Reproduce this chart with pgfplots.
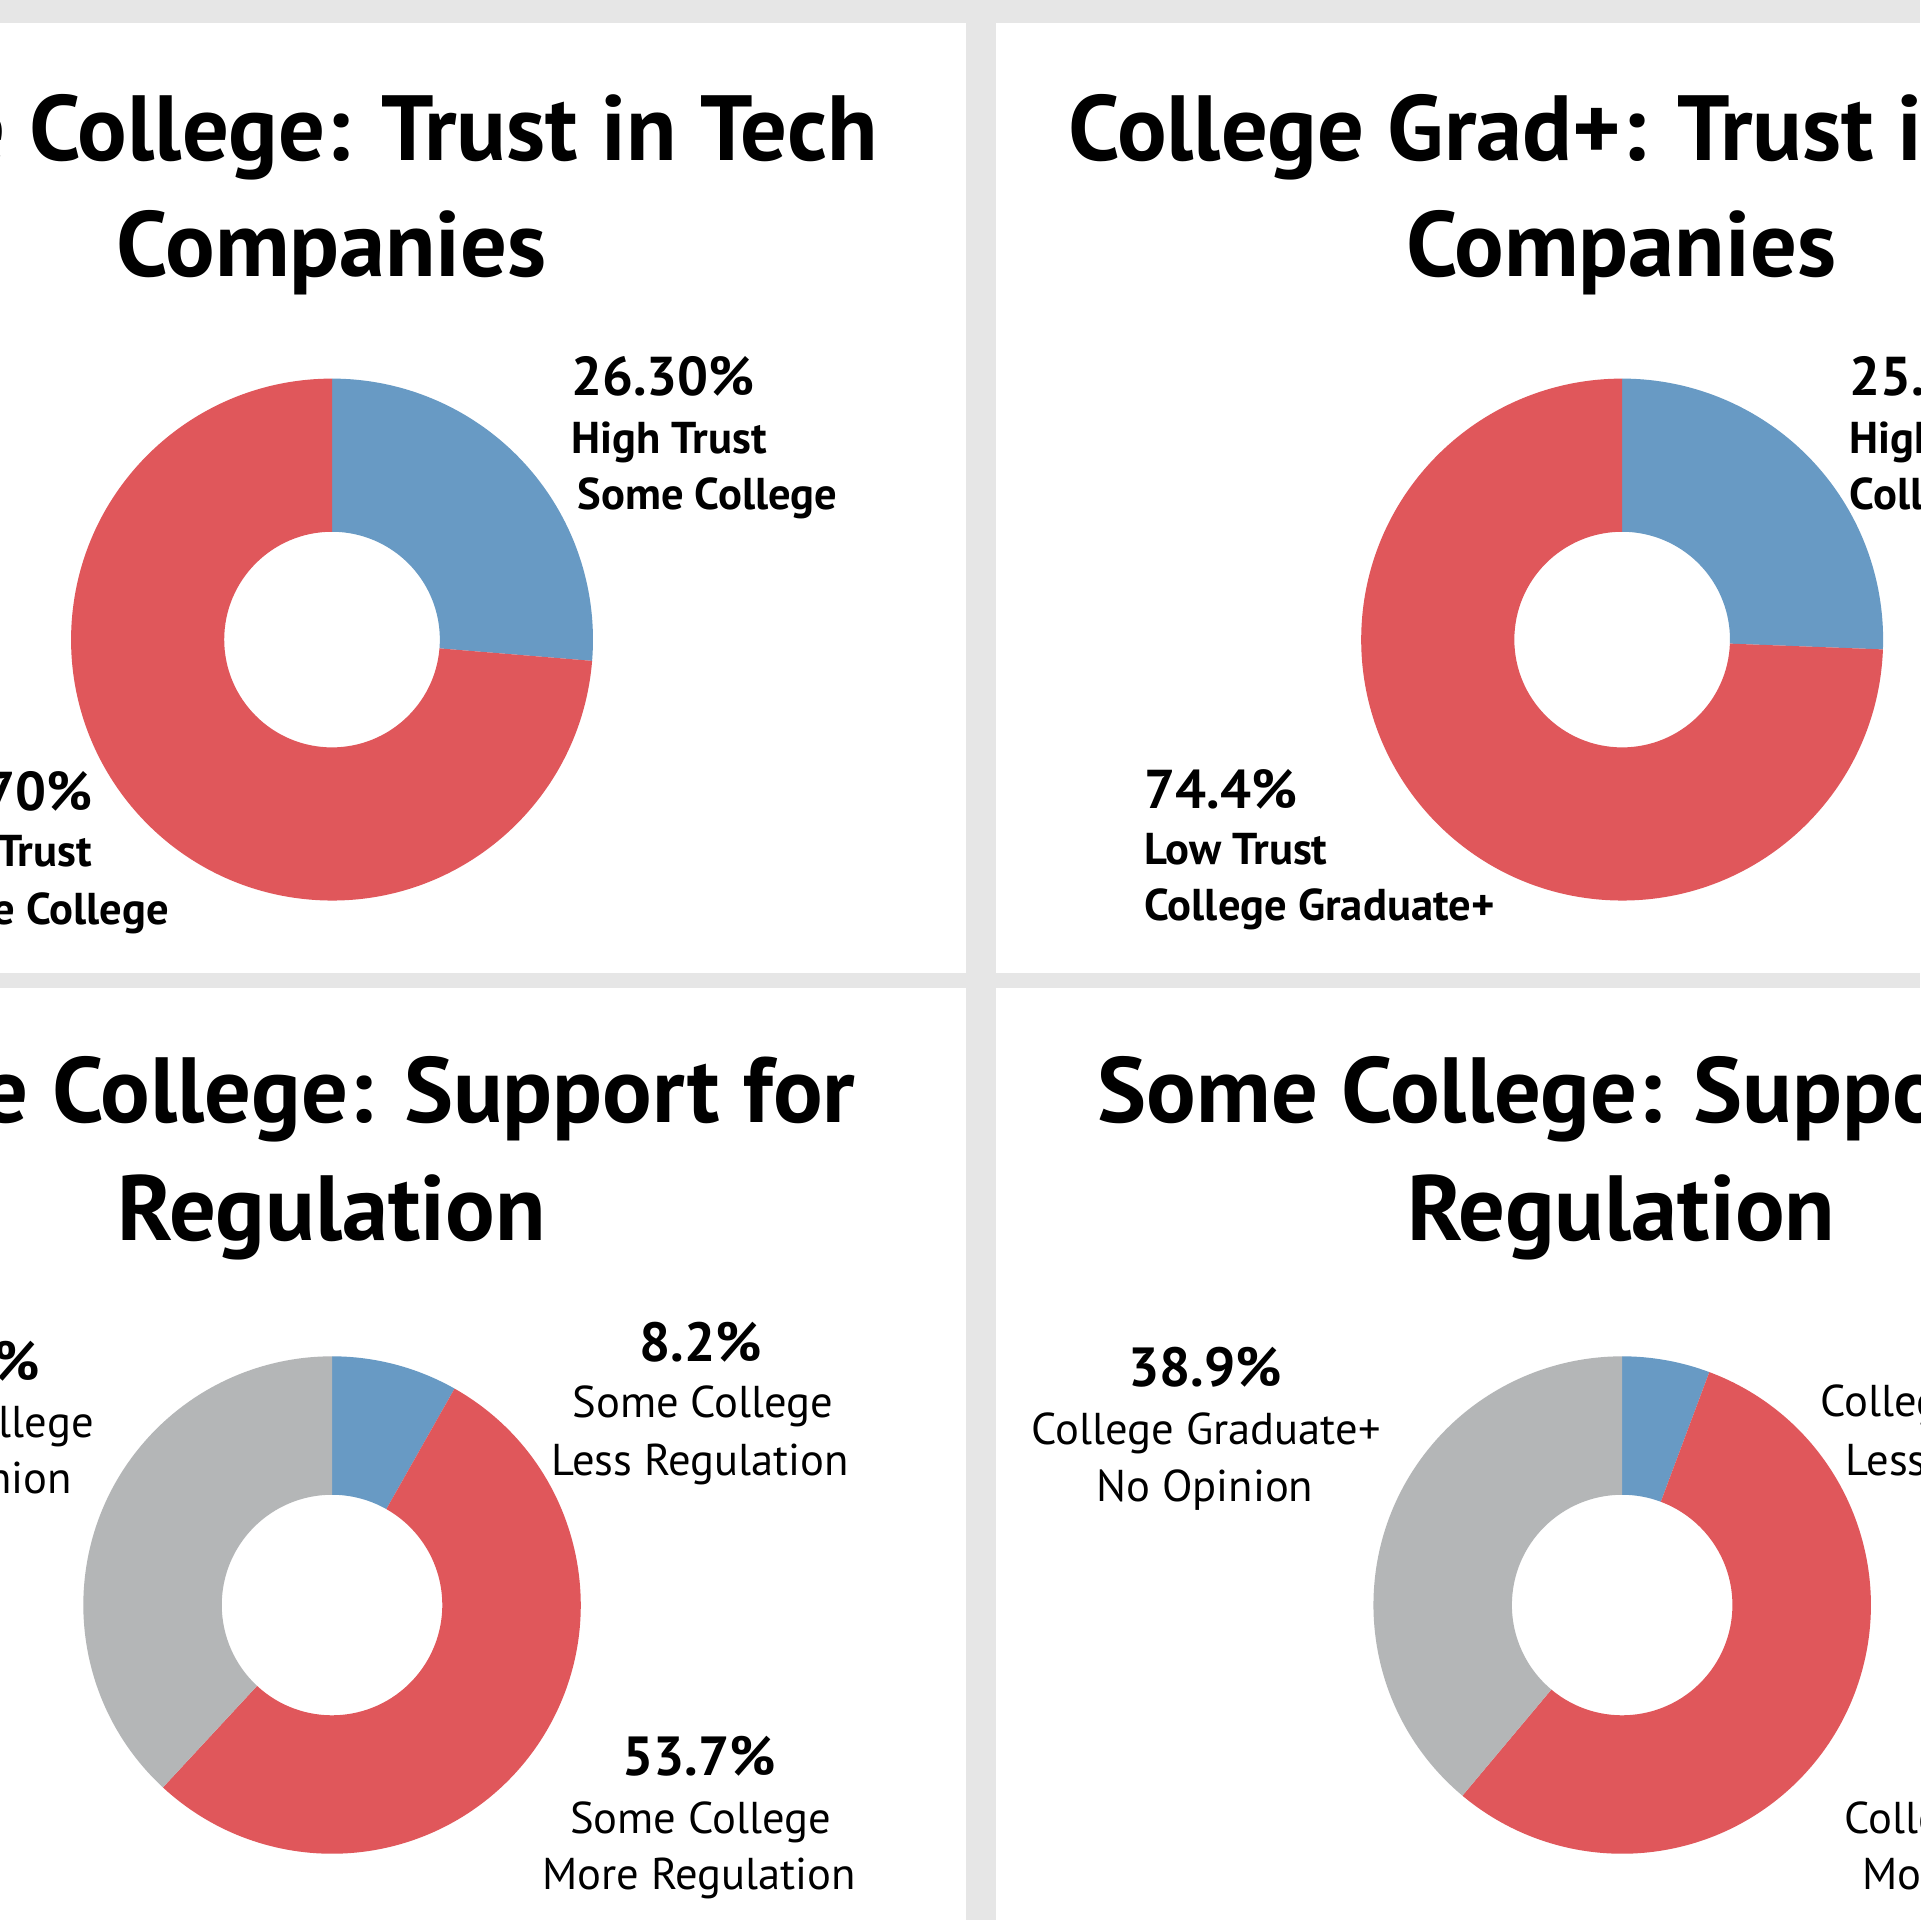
\documentclass[border=0pt]{standalone}
\usepackage{fontspec}
\setmainfont{PT Sans}
\usepackage{pgfplots}
\pgfplotsset{compat=1.18}
\definecolor{bgG}{RGB}{230,230,230}
\definecolor{cBlue}{RGB}{104,154,196}
\definecolor{cRed}{RGB}{224,87,91}
\definecolor{cGray}{RGB}{180,182,183}
% #1 outer radius, #2 inner radius, #3 start percent, #4 end percent, #5 colour
\newcommand{\seg}[5]{%
  \fill[#5] ({#1*cos(90-3.6*#3)},{#1*sin(90-3.6*#3)})
    arc[start angle={90-3.6*#3}, end angle={90-3.6*#4}, radius=#1cm]
    -- ({#2*cos(90-3.6*#4)},{#2*sin(90-3.6*#4)})
    arc[start angle={90-3.6*#4}, end angle={90-3.6*#3}, radius=#2cm] -- cycle;}
\pgfplotsset{donut/.style={hide axis, x=1cm, y=1cm, xmin=-2.3, xmax=2.3,
  ymin=-2.3, ymax=2.3, anchor=center, clip=false}}
\tikzset{
  ttl/.style={anchor=base, inner sep=0pt, font=\fontsize{21.5}{25}\selectfont\bfseries},
  pcL/.style={anchor=base west, inner sep=0pt, font=\fontsize{12.7}{15}\selectfont\bfseries},
  lbL/.style={anchor=base west, inner sep=0pt, font=\fontsize{10.35}{12}\selectfont\bfseries},
  pcC/.style={anchor=base, inner sep=0pt, font=\fontsize{12.8}{15}\selectfont\bfseries},
  lbC/.style={anchor=base, inner sep=0pt, font=\fontsize{10.35}{12}\selectfont},
}
\begin{document}
\begin{tikzpicture}[x=0.01cm, y=-0.01cm]
\path[use as bounding box, clip] (0,0) rectangle (1568,1568);
\fill[bgG] (0,0) rectangle (1568,1568);
\fill[white] (-20,19) rectangle (789,795);
\fill[white] (813,19) rectangle (1600,795);
\fill[white] (-20,807) rectangle (789,1600);
\fill[white] (813,807) rectangle (1600,1600);

% Top left: Some College, trust
\begin{axis}[donut, at={(2.71cm,-5.22cm)}]
  \seg{2.13}{0.88}{0}{26.30}{cBlue}
  \seg{2.13}{0.88}{26.30}{100}{cRed}
\end{axis}
% Top right: College Graduate+, trust
\begin{axis}[donut, at={(13.24cm,-5.22cm)}]
  \seg{2.13}{0.88}{0}{25.6}{cBlue}
  \seg{2.13}{0.88}{25.6}{100}{cRed}
\end{axis}
% Bottom left: Some College, regulation
\begin{axis}[donut, at={(2.71cm,-13.10cm)}]
  \seg{2.03}{0.90}{0}{8.2}{cBlue}
  \seg{2.03}{0.90}{8.2}{61.9}{cRed}
  \seg{2.03}{0.90}{61.9}{100}{cGray}
\end{axis}
% Bottom right: College Graduate+, regulation
\begin{axis}[donut, at={(13.24cm,-13.10cm)}]
  \seg{2.03}{0.90}{0}{5.7}{cBlue}
  \seg{2.03}{0.90}{5.7}{61.1}{cRed}
  \seg{2.03}{0.90}{61.1}{100}{cGray}
\end{axis}

% Titles
\node[ttl] at (271,131) {Some College: Trust in Tech};
\node[ttl] at (271,226) {Companies};
\node[ttl] at (1324,131) {College Grad+: Trust in Tech};
\node[ttl] at (1324,226) {Companies};
\node[ttl] at (271,917) {Some College: Support for};
\node[ttl] at (271,1013) {Regulation};
\node[ttl] at (1324,917) {Some College: Support for};
\node[ttl] at (1324,1013) {Regulation};

% Top-left labels
\node[pcL] at (466,323) {26.30\%};
\node[lbL] at (466,370) {High Trust};
\node[lbL] at (471,416) {Some College};
\node[pcL] at (-75,662) {73.70\%};
\node[lbL] at (-75,708) {Low Trust};
\node[lbL] at (-75,755) {Some College};
% Top-right labels
\node[pcL] at (1510,323) {25.6\%};
\node[lbL] at (1510,370) {High Trust};
\node[lbL] at (1510,416) {College Graduate+};
\node[pcL] at (934,660) {74.4\%};
\node[lbL] at (934,706) {Low Trust};
\node[lbL] at (934,752) {College Graduate+};
% Bottom-left labels
\node[pcC] at (572,1112) {8.2\%};
\node[lbC] at (574,1158) {Some College};
\node[lbC] at (572,1205) {Less Regulation};
\node[pcC] at (571,1450) {53.7\%};
\node[lbC] at (572,1497) {Some College};
\node[lbC] at (571,1543) {More Regulation};
\node[pcC] at (-30,1127) {38.1\%};
\node[lbC] at (-30,1174) {Some College};
\node[lbC] at (-30,1220) {No Opinion};
% Bottom-right labels
\node[pcC] at (984,1132) {38.9\%};
\node[lbC] at (985,1180) {College Graduate+};
\node[lbC] at (984,1226) {No Opinion};
\node[pcC] at (1629,1112) {5.7\%};
\node[lbC] at (1629,1157) {College Graduate+};
\node[lbC] at (1629,1205) {Less Regulation};
\node[pcC] at (1649,1450) {55.4\%};
\node[lbC] at (1649,1497) {College Graduate+};
\node[lbC] at (1649,1543) {More Regulation};
\end{tikzpicture}
\end{document}
